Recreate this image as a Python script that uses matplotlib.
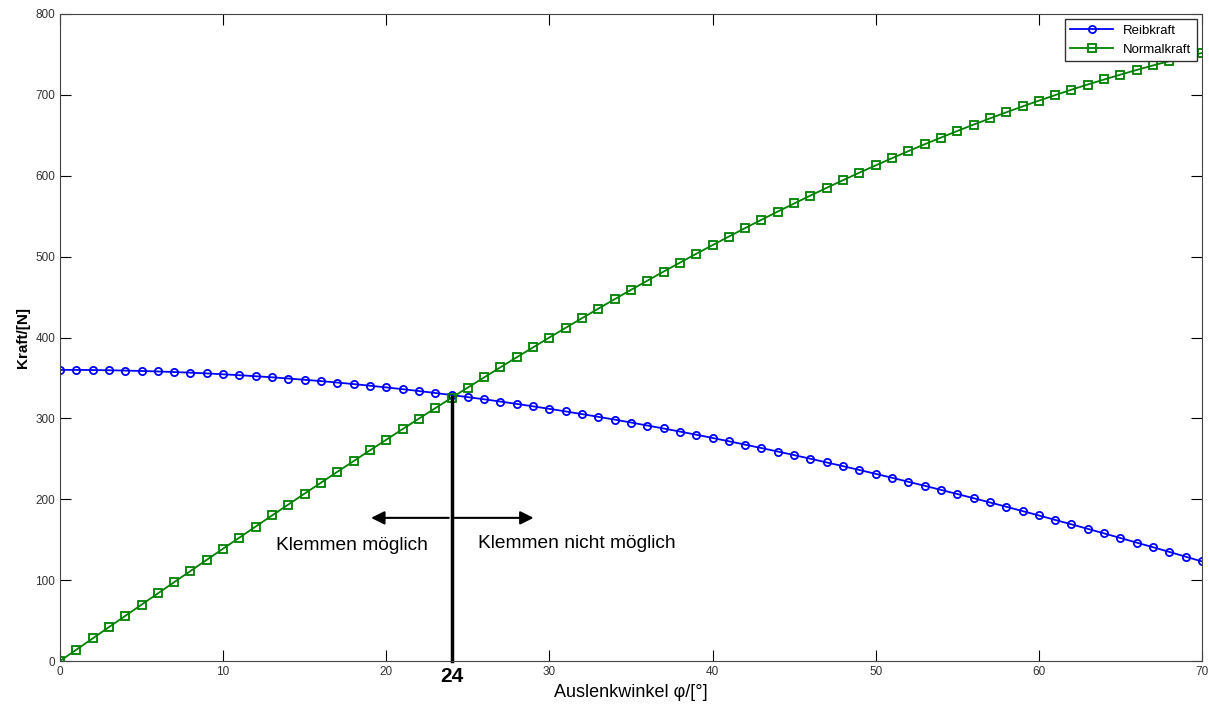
import numpy as np
import matplotlib.pyplot as plt

plt.rcParams['font.family'] = ['Liberation Sans', 'DejaVu Sans']

# Auslenkwinkel in Grad (0..70)
phi = list(range(0, 71))

reibkraft = [360.0, 359.9, 359.8, 359.5, 359.1, 358.6, 358.0, 357.3, 356.5, 355.6,
             354.5, 353.4, 352.1, 350.8, 349.3, 347.7, 346.1, 344.3, 342.4, 340.4,
             338.3, 336.1, 333.8, 331.4, 328.9, 326.3, 323.6, 320.8, 317.9, 314.9,
             311.8, 308.6, 305.3, 301.9, 298.5, 294.9, 291.2, 287.5, 283.7, 279.8,
             275.8, 271.7, 267.5, 263.3, 259.0, 254.6, 250.1, 245.5, 240.9, 236.2,
             231.4, 226.6, 221.6, 216.7, 211.6, 206.5, 201.3, 196.1, 190.8, 185.4,
             180.0, 174.5, 169.0, 163.4, 157.8, 152.1, 146.4, 140.7, 134.9, 129.0,
             123.1]

normalkraft = [0.0, 14.0, 27.9, 41.9, 55.8, 69.7, 83.6, 97.5, 111.3, 125.1,
               138.9, 152.6, 166.3, 180.0, 193.5, 207.1, 220.5, 233.9, 247.2, 260.5,
               273.6, 286.7, 299.7, 312.6, 325.4, 338.1, 350.7, 363.2, 375.6, 387.8,
               400.0, 412.0, 423.9, 435.7, 447.4, 458.9, 470.2, 481.5, 492.5, 503.5,
               514.2, 524.8, 535.3, 545.6, 555.7, 565.7, 575.5, 585.1, 594.5, 603.8,
               612.8, 621.7, 630.4, 638.9, 647.2, 655.3, 663.2, 670.9, 678.4, 685.7,
               692.8, 699.7, 706.4, 712.8, 719.0, 725.0, 730.8, 736.4, 741.7, 746.9,
               751.8]

grenzwinkel = 24
grenzkraft = 327

fig = plt.figure(figsize=(12.09, 7.06), dpi=100)
ax = fig.add_axes([0.0496, 0.0637, 0.9446, 0.9165])

ax.plot(phi, reibkraft, color='#0000ff', lw=1.3, marker='o', ms=5.2,
        mfc='none', mew=1.3, label='Reibkraft')
ax.plot(phi, normalkraft, color='#008000', lw=1.3, marker='s', ms=5.5,
        mfc='none', mew=1.3, label='Normalkraft')

ax.set_xlim(0, 70)
ax.set_ylim(0, 800)
ax.set_xticks(np.arange(0, 71, 10))
ax.set_yticks(np.arange(0, 801, 100))
ax.tick_params(direction='in', top=True, right=True, labelsize=8.5,
               labelcolor='#333333', length=8)
for s in ax.spines.values():
    s.set_color('#444444')

# Grenzlinie und Pfeile
ax.plot([grenzwinkel, grenzwinkel], [0, grenzkraft], color='black', lw=2.5, clip_on=False)
ax.annotate('', xy=(18.9, 177), xytext=(grenzwinkel, 177),
            arrowprops=dict(arrowstyle='-|>', color='black', lw=1.5, mutation_scale=20))
ax.annotate('', xy=(29.2, 177), xytext=(grenzwinkel, 177),
            arrowprops=dict(arrowstyle='-|>', color='black', lw=1.5, mutation_scale=20))
ax.text(17.9, 143, 'Klemmen möglich', ha='center', va='center', fontsize=13.8)
ax.text(31.7, 145, 'Klemmen nicht möglich', ha='center', va='center', fontsize=13.8)

ax.text(grenzwinkel, -8, '24', ha='center', va='top', fontsize=15, fontweight='bold')

ax.set_xlabel('Auslenkwinkel φ/[°]', fontsize=13, labelpad=2)
ax.xaxis.set_label_coords(0.5, -0.035)
ax.set_ylabel('Kraft/[N]', fontsize=11, fontweight='bold')

ax.legend(loc='upper right', fontsize=9.5, fancybox=False, edgecolor='#333333',
          framealpha=1, borderaxespad=0.4, handlelength=3.2)

fig.savefig('out.png', dpi=100)
